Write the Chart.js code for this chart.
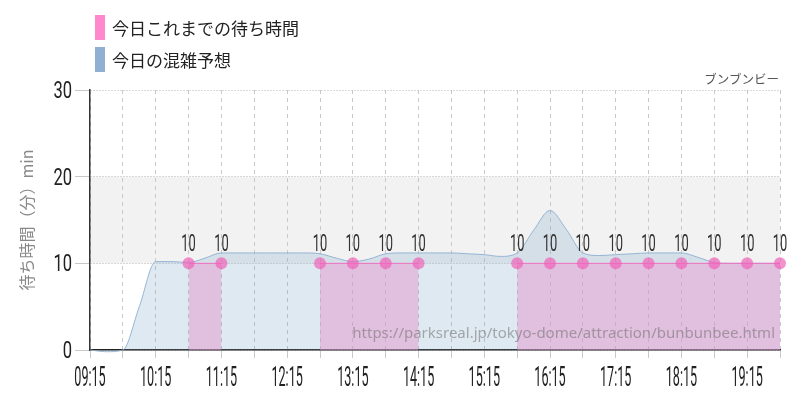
<!DOCTYPE html>
<html lang="ja">
<head>
<meta charset="utf-8">
<script src="https://cdn.jsdelivr.net/npm/chart.js@4.4.0/dist/chart.umd.min.js"></script>
<style>
body { margin: 0; background: #fff; }
#caja { position: relative; width: 800px; height: 400px; }
#myChart { position: absolute; left: 0; top: 0; }
.cuadro { position: absolute; left: 95px; width: 10px; height: 25px; }
.leyenda { position: absolute; left: 112px; height: 25px; line-height: 25px; font-family: 'Noto Sans CJK JP', sans-serif; font-size: 17px; color: #222; white-space: nowrap; }
#nombre { position: absolute; right: 21px; top: 69px; font-family: 'Noto Sans CJK JP', sans-serif; font-size: 12.5px; color: #555; }
#marca { position: absolute; right: 25px; top: 322px; font-family: 'Noto Sans', sans-serif; font-size: 15px; color: rgba(110,110,110,0.55); white-space: nowrap; }
</style>
</head>
<body>
<div id="caja">
  <canvas id="myChart" width="800" height="400"></canvas>
  <div class="cuadro" style="top:15px;background:#ff88cc"></div>
  <div class="leyenda" style="top:15px">今日これまでの待ち時間</div>
  <div class="cuadro" style="top:47px;background:#8fb0d0"></div>
  <div class="leyenda" style="top:47px">今日の混雑予想</div>
  <div id="nombre">ブンブンビー</div>
  <div id="marca">https://parksreal.jp/tokyo-dome/attraction/bunbunbee.html</div>
</div>
<script>
// Horas del eje (cada 30 min hay linea, cada hora etiqueta)
const horaInicio = '09:15';
const horaFin = '19:45';
const tickLabels = ['09:15', '10:15', '11:15', '12:15', '13:15', '14:15', '15:15', '16:15', '17:15', '18:15', '19:15'];

// Prediccion (cada 15 min)
const predTimes = ['09:15', '09:30', '09:45', '10:00', '10:15', '10:30', '10:45', '11:00', '11:15', '11:30',
  '11:45', '12:00', '12:15', '12:30', '12:45', '13:00', '13:15', '13:30', '13:45', '14:00',
  '14:15', '14:30', '14:45', '15:00', '15:15', '15:30', '15:45', '16:00', '16:15', '16:30',
  '16:45', '17:00', '17:15', '17:30', '17:45', '18:00', '18:15', '18:30', '18:45', '19:00',
  '19:15', '19:30', '19:45'];
const predValues = [0, -0.2, 0, 5, 10.2, 10.2, 10.1, 10.6, 11.2, 11.2,
  11.2, 11.2, 11.2, 11.2, 11.1, 10.6, 10.2, 10.5, 11.1, 11.2,
  11.2, 11.2, 11.2, 11.1, 11.0, 10.8, 11.2, 13.8, 16.1, 13.9,
  11.2, 10.9, 11.0, 11.1, 11.2, 11.2, 11.2, 10.7, 10.1, 10.0,
  10.0, 10.0, 10.0];

// Tiempo de espera real (null = sin dato)
const waitTimes = ['10:45', '11:15', '11:45', '12:15', '12:45', '13:15', '13:45', '14:15', '14:45', '15:15',
  '15:45', '16:15', '16:45', '17:15', '17:45', '18:15', '18:45', '19:15', '19:45'];
const waitValues = [10, 10, null, null, 10, 10, 10, 10, null, null,
  10, 10, 10, 10, 10, 10, 10, 10, 10];

// Banda gris del eje y
const bandaMin = 10;
const bandaMax = 20;

function aMinutos(h) {
    const p = h.split(':');
    return Number(p[0]) * 60 + Number(p[1]);
}

function aHora(m) {
    const hh = Math.floor(m / 60);
    const mm = m % 60;
    return String(hh).padStart(2, '0') + ':' + String(mm).padStart(2, '0');
}

// Texto angosto (la fuente original es muy condensada)
function textoAngosto(ctx, txt, x, y, escala, align) {
    ctx.save();
    ctx.translate(x, y);
    ctx.scale(escala, 1);
    ctx.textAlign = align;
    ctx.textBaseline = 'alphabetic';
    ctx.fillText(txt, 0, 0);
    ctx.restore();
}

const extras = {
    id: 'extras',
    beforeDraw(chart) {
        const {ctx, chartArea, scales} = chart;
        const yA = scales.y.getPixelForValue(bandaMax);
        const yB = scales.y.getPixelForValue(bandaMin);
        ctx.save();
        ctx.fillStyle = '#f2f2f2';
        ctx.fillRect(chartArea.left, yA, chartArea.right - chartArea.left, yB - yA);
        ctx.restore();
    },
    afterDatasetsDraw(chart) {
        const {ctx, chartArea, scales} = chart;

        // etiquetas sobre los puntos
        ctx.save();
        ctx.fillStyle = '#333';
        ctx.font = '23px Roboto';
        const meta = chart.getDatasetMeta(0);
        meta.data.forEach((p, i) => {
            if (waitValues[i] === null) return;
            textoAngosto(ctx, String(waitValues[i]), p.x, p.y - 12, 0.56, 'center');
        });

        // etiquetas eje x
        ctx.fillStyle = '#222';
        ctx.font = '28px Roboto';
        scales.x.ticks.forEach(t => {
            if (!t.label) return;
            const x = scales.x.getPixelForValue(t.value);
            textoAngosto(ctx, t.label, x, chartArea.bottom + 36, 0.45, 'center');
        });

        // etiquetas eje y
        ctx.font = '23px Roboto';
        scales.y.ticks.forEach(t => {
            const y = scales.y.getPixelForValue(t.value);
            textoAngosto(ctx, String(t.value), chartArea.left - 18, y + 8, 0.72, 'right');
        });
        ctx.restore();
    }
};

const ctx = document.getElementById('myChart');

new Chart(ctx, {
    type: 'line',
    data: {
        datasets: [{
            label: '今日これまでの待ち時間',
            data: waitTimes.map((h, i) => ({x: aMinutos(h), y: waitValues[i]})),
            borderColor: '#f070c0',
            borderWidth: 1,
            backgroundColor: 'rgba(228,150,202,0.5)',
            fill: 'origin',
            tension: 0,
            spanGaps: false,
            pointRadius: 6,
            pointBorderWidth: 0,
            pointBackgroundColor: 'rgba(240,100,185,0.7)',
            clip: 8
        }, {
            label: '今日の混雑予想',
            data: predTimes.map((h, i) => ({x: aMinutos(h), y: predValues[i]})),
            borderColor: 'rgba(140,175,210,0.9)',
            borderWidth: 1,
            backgroundColor: 'rgba(116,159,199,0.23)',
            fill: 'origin',
            cubicInterpolationMode: 'monotone',
            pointRadius: 0,
            clip: 5
        }]
    },
    options: {
        responsive: false,
        animation: false,
        devicePixelRatio: 1,
        layout: { padding: { top: 90, right: 20, left: 0, bottom: 0 } },
        plugins: {
            legend: { display: false },
            tooltip: { enabled: false }
        },
        scales: {
            x: {
                type: 'linear',
                min: aMinutos(horaInicio),
                max: aMinutos(horaFin),
                afterBuildTicks: s => {
                    const lista = [];
                    for (let m = aMinutos(horaInicio); m <= aMinutos(horaFin); m += 30) {
                        lista.push({value: m});
                    }
                    s.ticks = lista;
                },
                afterFit: s => { s.height = 50; },
                ticks: {
                    autoSkip: false,
                    maxRotation: 0,
                    color: 'rgba(0,0,0,0)',
                    font: { size: 12 },
                    callback: v => tickLabels.includes(aHora(v)) ? aHora(v) : ''
                },
                grid: {
                    color: '#c8c8c8',
                    tickLength: 8,
                    tickColor: '#c8c8c8',
                    tickBorderDash: []
                },
                border: { color: '#222', width: 1.5, dash: [4, 4] }
            },
            y: {
                min: 0,
                max: 30,
                afterFit: s => { s.width = 90; },
                ticks: {
                    stepSize: 10,
                    color: 'rgba(0,0,0,0)',
                    font: { size: 12 }
                },
                grid: {
                    color: '#b4b4b4',
                    tickLength: 15,
                    tickColor: '#c8c8c8',
                    tickBorderDash: []
                },
                border: { color: '#333', width: 1.5, dash: [1, 2] },
                title: {
                    display: true,
                    text: '待ち時間（分）min',
                    color: '#888',
                    font: { family: "'Noto Sans CJK JP', sans-serif", size: 16 },
                    padding: { top: 17, bottom: 0 }
                }
            }
        }
    },
    plugins: [extras]
});
</script>
</body>
</html>
